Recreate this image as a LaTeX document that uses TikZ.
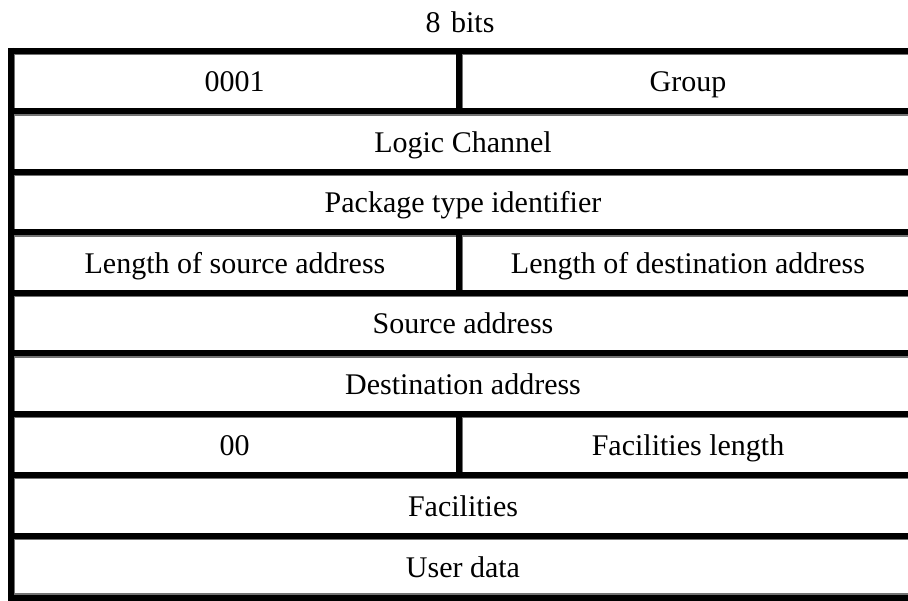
\documentclass[tikz,border=0pt]{standalone}
\usepackage{fontspec}
\setmainfont{Liberation Serif}
\begin{document}
\begin{tikzpicture}[x=1pt,y=-1pt,
  rule/.style={line width=6pt,black},
  shade/.style={line width=1.3pt,black!55},
  lbl/.style={font=\fontsize{30}{34}\selectfont,inner sep=0pt,anchor=base}]
\useasboundingbox (0,0) rectangle (908,601);
\clip (0,0) rectangle (908,601);
% row boundaries
\def\ya{51}\def\yb{111.5}\def\yc{172}\def\yd{232.5}\def\ye{293}
\def\yf{353.5}\def\yg{414}\def\yh{475}\def\yi{536}\def\yj{597.5}
\def\xl{11}\def\xm{458.5}\def\xr{915}
% shading lines (drawn first, under the black rules)
\foreach \y in {\ya,\yb,\yc,\yd,\ye,\yf,\yg,\yh,\yi}
  \draw[shade] (\xl,\y+3.6) -- (\xr,\y+3.6);
\draw[shade] (\xl,\yj-3.6) -- (\xr,\yj-3.6);
\draw[shade] (\xl+3.6,\ya) -- (\xl+3.6,\yj);
\foreach \t/\b in {\ya/\yb,\yd/\ye,\yg/\yh}
  \draw[shade] (\xm+3.6,\t) -- (\xm+3.6,\b);
% black rules
\foreach \y in {\ya,\yb,\yc,\yd,\ye,\yf,\yg,\yh,\yi,\yj}
  \draw[rule] (\xl-3,\y) -- (\xr,\y);
\draw[rule] (\xl,\ya-3) -- (\xl,\yj+3);
\draw[rule] (\xr,\ya-3) -- (\xr,\yj+3);
\foreach \t/\b in {\ya/\yb,\yd/\ye,\yg/\yh}
  \draw[rule] (\xm,\t) -- (\xm,\b);
% texts
\node[lbl] (bits) at (460,33) {8\hspace{0.1em} bits};
\node[lbl] (f1a) at (234.5,92) {0001};
\node[lbl] (f1b) at (688,92) {Group};
\node[lbl] (f2) at (463,152.5) {Logic Channel};
\node[lbl] (f3) at (463,213) {Package type identifier};
\node[lbl] (f4a) at (235,273.5) {Length of source address};
\node[lbl] (f4b) at (688,273.5) {Length of destination address};
\node[lbl] (f5) at (463,334) {Source address};
\node[lbl] (f6) at (463,394.5) {Destination address};
\node[lbl] (f7a) at (234.5,455.5) {00};
\node[lbl] (f7b) at (688,455.5) {Facilities length};
\node[lbl] (f8) at (463,516) {Facilities};
\node[lbl] (f9) at (463,577) {User data};
\end{tikzpicture}
\end{document}
